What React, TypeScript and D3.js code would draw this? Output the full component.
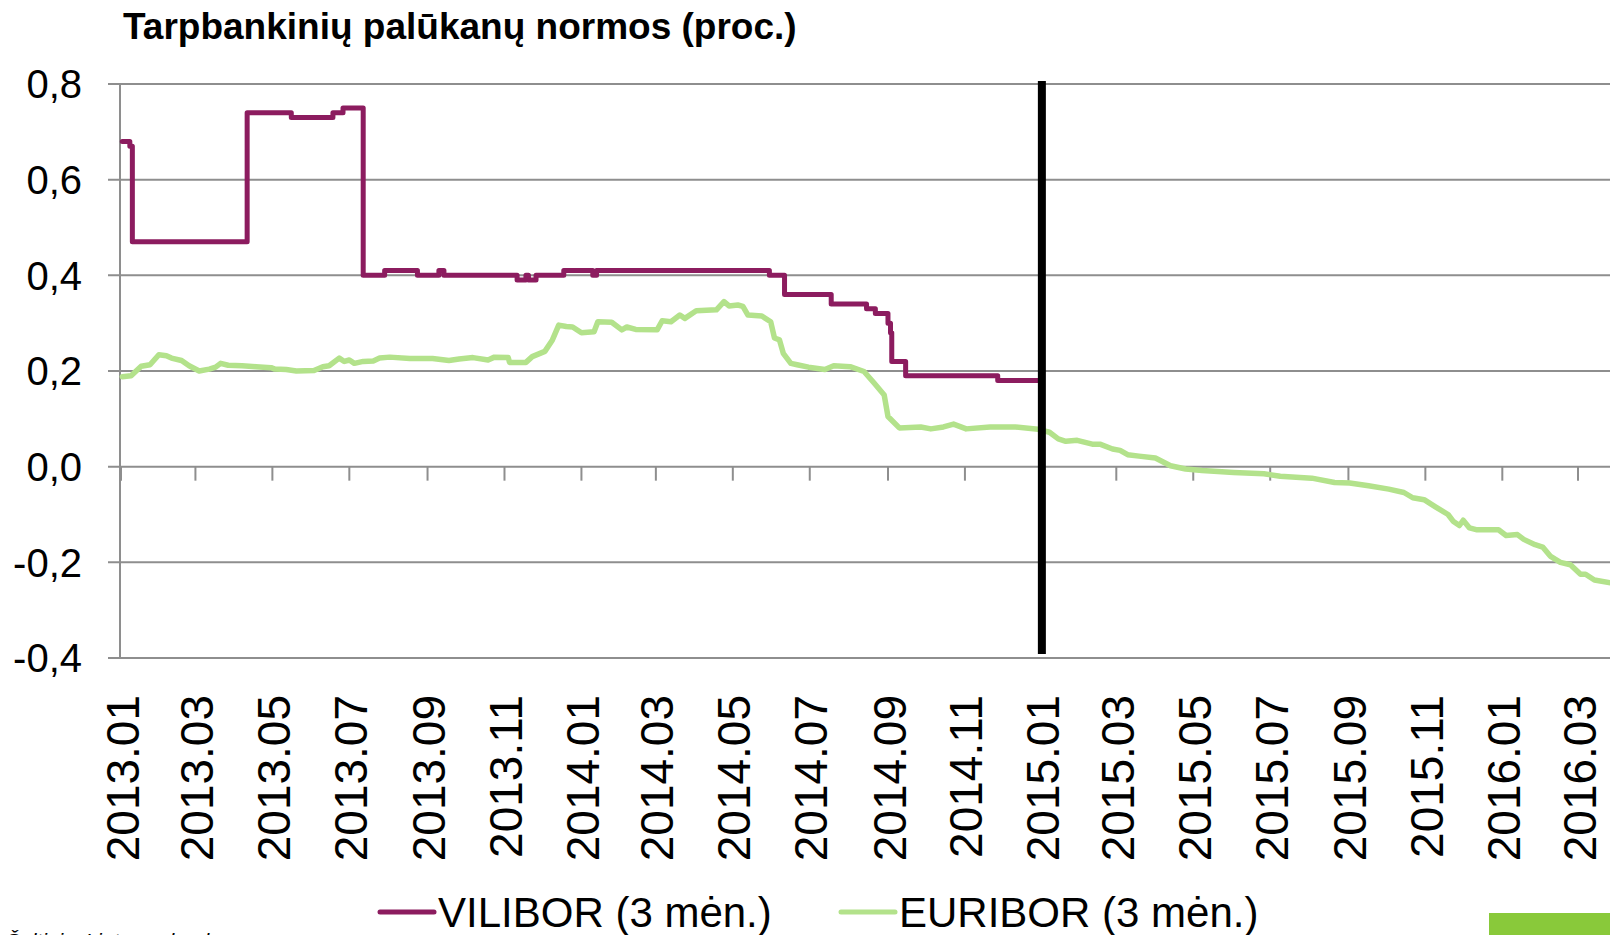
import React from "react";
import * as d3 from "d3";

const W = 1610;
const H = 935;

const TITLE = "Tarpbankinių palūkanų normos (proc.)";
const SOURCE = "Šaltinis: Lietuvos bankas";
const SERIES = ["VILIBOR (3 mėn.)", "EURIBOR (3 mėn.)"];
const COLORS = ["#8c1c5f", "#b3e28b"];

const Y_TICKS = [-0.4, -0.2, 0, 0.2, 0.4, 0.6, 0.8];
const X_TICK_LABELS = [
  "2013.01", "2013.03", "2013.05", "2013.07", "2013.09", "2013.11",
  "2014.01", "2014.03", "2014.05", "2014.07", "2014.09", "2014.11",
  "2015.01", "2015.03", "2015.05", "2015.07", "2015.09", "2015.11",
  "2016.01", "2016.03",
];
const EURO_DAY = "2015-01-01";

// VILIBOR 3 mėn. - pokyčių taškai (laiptinė linija)
const VILIBOR: [string, number][] = [
  ["2013-01-02", 0.68], ["2013-01-08", 0.67], ["2013-01-10", 0.47], ["2013-04-11", 0.74],
  ["2013-05-16", 0.73], ["2013-06-18", 0.74], ["2013-06-26", 0.75], ["2013-07-12", 0.40],
  ["2013-07-29", 0.41], ["2013-08-24", 0.40], ["2013-09-10", 0.41], ["2013-09-14", 0.40],
  ["2013-11-11", 0.39], ["2013-11-18", 0.40], ["2013-11-20", 0.39], ["2013-11-26", 0.40],
  ["2013-12-18", 0.41], ["2014-01-10", 0.40], ["2014-01-13", 0.41], ["2014-05-30", 0.40],
  ["2014-06-11", 0.36], ["2014-07-18", 0.34], ["2014-08-15", 0.33], ["2014-08-22", 0.32],
  ["2014-09-01", 0.30], ["2014-09-03", 0.28], ["2014-09-04", 0.22], ["2014-09-15", 0.19],
  ["2014-11-27", 0.18], ["2014-12-29", 0.18],
];

// EURIBOR 3 mėn.
const EURIBOR: [string, number][] = [
  ["2013-01-02", 0.188], ["2013-01-09", 0.19], ["2013-01-17", 0.21], ["2013-01-24", 0.213],
  ["2013-01-31", 0.234], ["2013-02-06", 0.232], ["2013-02-10", 0.227], ["2013-02-18", 0.222],
  ["2013-02-24", 0.211], ["2013-03-04", 0.2], ["2013-03-12", 0.204], ["2013-03-17", 0.208],
  ["2013-03-21", 0.216], ["2013-03-27", 0.212], ["2013-04-07", 0.211], ["2013-04-18", 0.209],
  ["2013-04-30", 0.207], ["2013-05-03", 0.204], ["2013-05-12", 0.203], ["2013-05-20", 0.2],
  ["2013-06-03", 0.201], ["2013-06-10", 0.209], ["2013-06-15", 0.211], ["2013-06-23", 0.227],
  ["2013-06-27", 0.22], ["2013-07-01", 0.223], ["2013-07-05", 0.216], ["2013-07-12", 0.22],
  ["2013-07-20", 0.221], ["2013-07-25", 0.227], ["2013-08-02", 0.229], ["2013-08-18", 0.226],
  ["2013-09-05", 0.226], ["2013-09-18", 0.222], ["2013-09-26", 0.225], ["2013-10-07", 0.228],
  ["2013-10-19", 0.223], ["2013-10-24", 0.229], ["2013-11-04", 0.228], ["2013-11-05", 0.218],
  ["2013-11-18", 0.218], ["2013-11-23", 0.23], ["2013-12-03", 0.241], ["2013-12-09", 0.265],
  ["2013-12-14", 0.296], ["2013-12-20", 0.293], ["2013-12-25", 0.292], ["2014-01-01", 0.28],
  ["2014-01-11", 0.282], ["2014-01-14", 0.303], ["2014-01-25", 0.302], ["2014-02-02", 0.286],
  ["2014-02-06", 0.292], ["2014-02-13", 0.287], ["2014-03-02", 0.286], ["2014-03-06", 0.305],
  ["2014-03-13", 0.303], ["2014-03-20", 0.317], ["2014-03-24", 0.31], ["2014-04-02", 0.326],
  ["2014-04-18", 0.328], ["2014-04-24", 0.345], ["2014-04-28", 0.336], ["2014-05-05", 0.338],
  ["2014-05-09", 0.335], ["2014-05-13", 0.317], ["2014-05-24", 0.315], ["2014-05-31", 0.303],
  ["2014-06-03", 0.269], ["2014-06-07", 0.265], ["2014-06-10", 0.237], ["2014-06-16", 0.216],
  ["2014-06-21", 0.213], ["2014-06-30", 0.208], ["2014-07-13", 0.203], ["2014-07-20", 0.211],
  ["2014-08-02", 0.209], ["2014-08-13", 0.199], ["2014-08-21", 0.175], ["2014-08-29", 0.15],
  ["2014-09-01", 0.105], ["2014-09-10", 0.081], ["2014-09-27", 0.083], ["2014-10-05", 0.079],
  ["2014-10-15", 0.083], ["2014-10-23", 0.089], ["2014-11-02", 0.079], ["2014-11-21", 0.083],
  ["2014-12-11", 0.083], ["2014-12-29", 0.078], ["2015-01-07", 0.072], ["2015-01-14", 0.058],
  ["2015-01-20", 0.053], ["2015-01-29", 0.055], ["2015-02-10", 0.047], ["2015-02-16", 0.047],
  ["2015-02-26", 0.037], ["2015-03-04", 0.034], ["2015-03-10", 0.025], ["2015-03-19", 0.022],
  ["2015-04-01", 0.018], ["2015-04-13", 0.002], ["2015-04-25", -0.005], ["2015-05-08", -0.008],
  ["2015-06-02", -0.012], ["2015-06-26", -0.015], ["2015-07-09", -0.02], ["2015-08-03", -0.024],
  ["2015-08-21", -0.033], ["2015-09-02", -0.034], ["2015-09-17", -0.04], ["2015-10-03", -0.047],
  ["2015-10-15", -0.054], ["2015-10-22", -0.065], ["2015-10-31", -0.069], ["2015-11-09", -0.084],
  ["2015-11-19", -0.1], ["2015-11-23", -0.114], ["2015-11-28", -0.123], ["2015-12-01", -0.112],
  ["2015-12-06", -0.128], ["2015-12-12", -0.132], ["2015-12-29", -0.132], ["2016-01-04", -0.144],
  ["2016-01-13", -0.142], ["2016-01-18", -0.152], ["2016-01-27", -0.163], ["2016-02-02", -0.168],
  ["2016-02-08", -0.187], ["2016-02-16", -0.2], ["2016-02-24", -0.205], ["2016-03-03", -0.225],
  ["2016-03-07", -0.225], ["2016-03-14", -0.237], ["2016-03-27", -0.243],
];

type Pt = { date: Date; value: number };

const parseDay = d3.timeParse("%Y-%m-%d");
const parseTick = d3.timeParse("%Y.%m");
const toPts = (arr: [string, number][]): Pt[] =>
  arr.map(([d, v]) => ({ date: parseDay(d)!, value: v }));

export default function App() {
  const x = d3
    .scaleTime()
    .domain([parseDay("2013-01-01")!, parseDay("2016-03-01")!])
    .range([121, 1578]);
  const y = d3.scaleLinear().domain([-0.4, 0.8]).range([658, 84]);

  const fmt = (v: number) => d3.format(".1f")(v).replace(".", ",").replace("−", "-");

  const stepLine = d3
    .line<Pt>()
    .x((d) => x(d.date))
    .y((d) => y(d.value))
    .curve(d3.curveStepAfter);
  const line = d3
    .line<Pt>()
    .x((d) => x(d.date))
    .y((d) => y(d.value));

  const ticks = X_TICK_LABELS.map((l) => ({ label: l, date: parseTick(l)! }));
  const axisX = 120;
  const euroX = x(parseDay(EURO_DAY)!);
  const font = "'Liberation Sans', Arial, sans-serif";

  return (
    <div style={{ position: "absolute", left: 0, top: 0 }}>
      <svg width={W} height={H} style={{ display: "block", background: "#fff" }} fontFamily={font}>
        <text x={123} y={39} fontSize={37} fontWeight="bold" fill="#000">
          {TITLE}
        </text>

        {/* tinklelis ir Y ašis */}
        <g stroke="#8e8e8e" strokeWidth={2}>
          {Y_TICKS.map((t) => (
            <line key={t} x1={108} x2={W} y1={y(t)} y2={y(t)} />
          ))}
          <line x1={axisX} x2={axisX} y1={y(0.8)} y2={y(-0.4)} />
          {ticks.map((t) => (
            <line key={t.label} x1={x(t.date)} x2={x(t.date)} y1={y(0)} y2={y(0) + 14} />
          ))}
        </g>

        <g fontSize={40} textAnchor="end" fill="#000">
          {Y_TICKS.map((t) => (
            <text key={t} x={82} y={y(t)} dy="0.36em">
              {fmt(t)}
            </text>
          ))}
        </g>

        <g fontSize={46} textAnchor="end" fill="#000">
          {ticks.map((t) => (
            <text
              key={t.label}
              transform={`translate(${x(t.date) + 1},695) rotate(-90)`}
              dy="0.36em"
            >
              {t.label}
            </text>
          ))}
        </g>

        <path
          d={line(toPts(EURIBOR)) || ""}
          fill="none"
          stroke={COLORS[1]}
          strokeWidth={5.5}
          strokeLinejoin="round"
          strokeLinecap="round"
        />
        <path
          d={stepLine(toPts(VILIBOR)) || ""}
          fill="none"
          stroke={COLORS[0]}
          strokeWidth={5}
          strokeLinejoin="round"
          strokeLinecap="round"
        />

        <line x1={euroX} x2={euroX} y1={81} y2={654} stroke="#000" strokeWidth={8} />

        {/* legenda */}
        <g fontSize={42} fill="#000">
          <line x1={380} x2={434} y1={912} y2={912} stroke={COLORS[0]} strokeWidth={5} strokeLinecap="round" />
          <text x={438} y={927}>{SERIES[0]}</text>
          <line x1={841} x2={895} y1={912} y2={912} stroke={COLORS[1]} strokeWidth={5} strokeLinecap="round" />
          <text x={899} y={927}>{SERIES[1]}</text>
        </g>

        <text x={6} y={948} fontSize={21} fontStyle="italic" fill="#000">
          {SOURCE}
        </text>

        <rect x={1489} y={913} width={W - 1489} height={H - 913} fill="#89c93a" />
      </svg>
    </div>
  );
}
